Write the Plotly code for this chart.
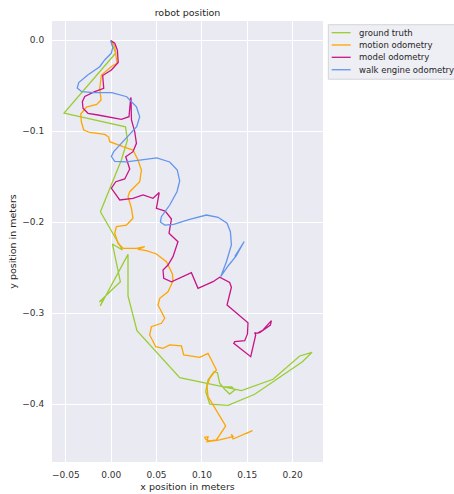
import plotly.graph_objects as go

gt_x = [0.0, 0.005, -0.052, 0.0157, 0.0179, 0.0112, -0.0119, 0.0123, 0.0013, 0.0101,
        -0.0132, -0.0088, -0.0121, 0.0185, 0.0185, 0.0259, 0.0284, 0.0755, 0.1436, 0.1784,
        0.2078, 0.2214, 0.2108, 0.1582, 0.1288, 0.1086, 0.1042, 0.1067, 0.1133, 0.1171,
        0.1196, 0.1251, 0.1306, 0.1362, 0.1329, 0.1229]
gt_y = [-0.002, -0.014, -0.080, -0.095, -0.1096, -0.1315, -0.1884, -0.2304, -0.2238, -0.2653,
        -0.2876, -0.2843, -0.292, -0.2352, -0.281, -0.3074, -0.3191, -0.3708, -0.385, -0.3725,
        -0.3469, -0.3429, -0.3532, -0.389, -0.4011, -0.3997, -0.3862, -0.3733, -0.3642, -0.3653,
        -0.3769, -0.3835, -0.3887, -0.3843, -0.381, -0.381]

mo_x = [0.0002, 0.0039, 0.0064, 0.0013, -0.0108, -0.0127, -0.0112, -0.0160, -0.0273, -0.0336,
        -0.0329, -0.0303, -0.0237, -0.0072, -0.0028, -0.0017, 0.0130, 0.0240, 0.0295, 0.0333,
        0.0314, 0.0204, 0.0185, 0.0223, 0.0240, 0.0168, 0.0057, 0.0039, 0.0075, 0.0112,
        0.0130, 0.0278, 0.0351, 0.0369, 0.0295, 0.0388, 0.0498, 0.0609, 0.0675, 0.0681,
        0.0626, 0.0535, 0.0516, 0.0590, 0.0553, 0.0443, 0.0424, 0.0491, 0.0571, 0.0645,
        0.0774, 0.0799, 0.0976, 0.1067, 0.1105, 0.1160, 0.1141, 0.1086, 0.1056, 0.1067,
        0.1262, 0.1196, 0.1160, 0.1086, 0.1042, 0.1031, 0.1067, 0.1056, 0.1196, 0.1343,
        0.1325, 0.1343, 0.1453, 0.1557, 0.1491]
mo_y = [-0.0004, -0.0070, -0.0253, -0.0279, -0.0381, -0.0527, -0.0656, -0.0705, -0.0733, -0.0810,
        -0.0898, -0.0986, -0.1013, -0.1035, -0.1063, -0.1114, -0.1169, -0.1206, -0.1315, -0.1425,
        -0.1554, -0.1664, -0.1719, -0.1846, -0.1956, -0.2030, -0.2048, -0.2121, -0.2231, -0.2275,
        -0.2286, -0.2286, -0.2268, -0.2268, -0.2297, -0.2312, -0.2348, -0.2433, -0.2568, -0.2645,
        -0.2763, -0.2835, -0.2909, -0.3055, -0.3110, -0.3147, -0.3238, -0.3367, -0.3385, -0.3348,
        -0.3359, -0.3458, -0.3484, -0.3440, -0.3513, -0.3623, -0.3642, -0.3714, -0.3799, -0.3916,
        -0.4238, -0.4337, -0.4392, -0.4403, -0.4385, -0.4363, -0.4356, -0.4411, -0.4392, -0.4356,
        -0.4330, -0.4381, -0.4337, -0.4290, -0.4319]

md_x = [-0.0006, 0.0039, 0.0068, 0.0077, 0.0002, -0.0094, -0.0083, -0.0182, -0.0292, -0.0318,
        -0.0311, -0.0256, -0.0146, -0.0035, 0.0072, 0.0112, 0.0196, 0.0215, 0.0218, 0.0223,
        0.0259, 0.0278, 0.0240, 0.0160, 0.0204, 0.0149, 0.0050, 0.0002, 0.0094, 0.0240,
        0.0351, 0.0461, 0.0529, 0.0498, 0.0595, 0.0664, 0.0637, 0.0736, 0.0681, 0.0626,
        0.0571, 0.0579, 0.0664, 0.0884, 0.0957, 0.1122, 0.1196, 0.1306, 0.1325, 0.1277,
        0.1508, 0.1502, 0.1472, 0.1362, 0.1351, 0.1538, 0.1563, 0.1593, 0.1582, 0.1608,
        0.1674, 0.1740, 0.1766, 0.1755, 0.1637, 0.1601]
md_y = [-0.0004, -0.0033, -0.0107, -0.0244, -0.0326, -0.0387, -0.0527, -0.0565, -0.0618, -0.0675,
        -0.0747, -0.0802, -0.0821, -0.0840, -0.0859, -0.0868, -0.0840, -0.0629, -0.0634, -0.0876,
        -0.1004, -0.1132, -0.1224, -0.1279, -0.1414, -0.1524, -0.1554, -0.1626, -0.1755, -0.1736,
        -0.1700, -0.1736, -0.1673, -0.1846, -0.1876, -0.1964, -0.2121, -0.2213, -0.2378, -0.2469,
        -0.2524, -0.2615, -0.2653, -0.2554, -0.2725, -0.2653, -0.2604, -0.2662, -0.2714, -0.2909,
        -0.3103, -0.3227, -0.3301, -0.3312, -0.3330, -0.3477, -0.3367, -0.3238, -0.3213, -0.3220,
        -0.3184, -0.3110, -0.3081, -0.3129, -0.3213, -0.3220]

we_x = [-0.0006, 0.0017, 0.0, -0.0072, -0.0127, -0.0259, -0.0358, -0.0375, -0.0325, -0.0193,
        0.0006, 0.0171, 0.0278, 0.0314, 0.0281, 0.0149, 0.0028, 0.0002, 0.0039, 0.0168,
        0.0351, 0.0502, 0.0645, 0.0728, 0.0755, 0.0725, 0.0645, 0.0553, 0.0542, 0.0590,
        0.0689, 0.0865, 0.1050, 0.1178, 0.1277, 0.1314, 0.1325, 0.1270, 0.1207, 0.1288,
        0.1378, 0.1466, 0.1362, 0.1433, 0.1400]
we_y = [-0.0004, -0.0079, -0.0143, -0.0216, -0.0290, -0.0381, -0.0464, -0.0524, -0.0565, -0.0576,
        -0.0576, -0.0620, -0.0730, -0.0840, -0.0949, -0.1096, -0.1224, -0.1277, -0.1330, -0.1337,
        -0.1310, -0.1293, -0.1337, -0.1425, -0.1546, -0.1664, -0.1810, -0.1938, -0.1997, -0.2030,
        -0.2022, -0.1967, -0.1920, -0.1945, -0.2011, -0.2103, -0.2249, -0.2433, -0.2598, -0.2480,
        -0.2370, -0.2211, -0.2376, -0.2271, -0.2315]

series_names = ["ground truth", "motion odometry", "model odometry", "walk engine odometry"]
series_colors = ["#9acd32", "#ffa500", "#c71585", "#6495ed"]
series_x = [gt_x, mo_x, md_x, we_x]
series_y = [gt_y, mo_y, md_y, we_y]

fig = go.Figure()
for name, xs, ys, col in zip(series_names, series_x, series_y, series_colors):
    fig.add_trace(go.Scatter(x=xs, y=ys, mode="lines", name=name,
                             line=dict(color=col, width=1.3), showlegend=False))

# custom legend (compact, like matplotlib)
shapes = [dict(type="rect", xref="paper", yref="paper", x0=1.0196, x1=1.52, y0=0.868, y1=0.9916,
               fillcolor="#eeeef5", line=dict(color="#d4d4d8", width=1), layer="above")]
annotations = []
legend_y = [0.9735, 0.9456, 0.9177, 0.8895]
for name, col, ly in zip(series_names, series_colors, legend_y):
    shapes.append(dict(type="line", xref="paper", yref="paper", x0=1.032, x1=1.102, y0=ly, y1=ly,
                       line=dict(color=col, width=1.3), layer="above"))
    annotations.append(dict(x=1.1266, y=ly, xref="paper", yref="paper", text=name, showarrow=False,
                            xanchor="left", yanchor="middle", font=dict(size=8.5, color="#262626")))

axis_common = dict(showgrid=True, gridcolor="white", gridwidth=1, zeroline=False,
                   showline=False, ticks="outside", tickcolor="rgba(0,0,0,0)",
                   tickfont=dict(size=9, color="#333333"),
                   title_font=dict(size=9.5, color="#262626"))

fig.update_layout(
    width=454, height=494,
    margin=dict(l=52, r=131, t=21, b=32, autoexpand=False),
    paper_bgcolor="white", plot_bgcolor="#eaeaf2",
    font=dict(family="DejaVu Sans", color="#262626"),
    title=dict(text="robot position", x=0.413, xanchor="center", y=0.975, yanchor="middle",
               font=dict(size=9.5, color="#262626")),
    xaxis=dict(range=[-0.0653, 0.2335], dtick=0.05, tick0=0, tickformat=".2f", ticklen=4,
               title=dict(text="x position in meters", standoff=4), **axis_common),
    yaxis=dict(range=[-0.4634, 0.0212], dtick=0.1, tick0=0, tickformat=".1f", ticklen=5,
               title=dict(text="y position in meters", standoff=4), **axis_common),
    shapes=shapes,
    annotations=annotations,
    showlegend=False,
)

fig.write_html("out.html", config={"displayModeBar": False},
               post_script="document.body.style.margin='0';")
